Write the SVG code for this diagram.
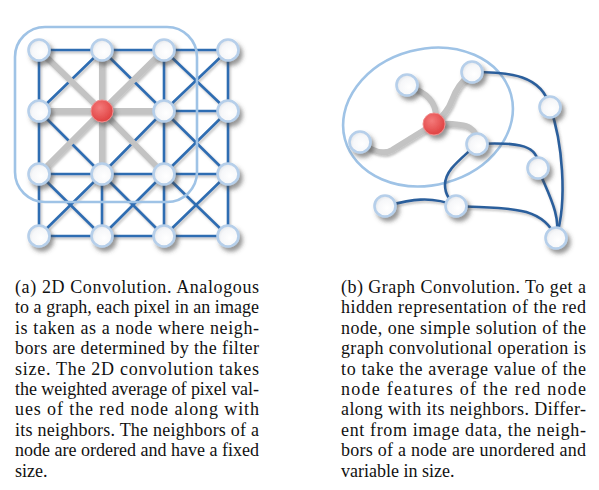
<svg xmlns="http://www.w3.org/2000/svg" width="599" height="490" viewBox="0 0 599 490">
<defs>
<filter id="sh" x="-50%" y="-50%" width="200%" height="200%">
<feDropShadow dx="3" dy="4" stdDeviation="2.2" flood-color="#444" flood-opacity="0.55"/>
</filter>
<filter id="lsh" x="-10%" y="-10%" width="120%" height="120%">
<feDropShadow dx="1.5" dy="2" stdDeviation="1.2" flood-color="#555" flood-opacity="0.35"/>
</filter>
<radialGradient id="ng" cx="0.6" cy="0.6" r="0.7">
<stop offset="0" stop-color="#ffffff"/>
<stop offset="0.6" stop-color="#f6f7f9"/>
<stop offset="1" stop-color="#d9dde2"/>
</radialGradient>
<radialGradient id="rg" cx="0.4" cy="0.35" r="0.7">
<stop offset="0" stop-color="#f47a7a"/>
<stop offset="1" stop-color="#de3d3d"/>
</radialGradient>
</defs>
<style>
.b{stroke:#2f6db2;stroke-width:2.6;fill:none;stroke-linecap:round}
.bg{stroke:#2c5f9c;stroke-width:2.6;fill:none;stroke-linecap:round}
.g{stroke:#c3c3c3;stroke-width:6;fill:none;stroke-linecap:round}
.n{fill:url(#ng);stroke:#b6cfea;stroke-width:2.6;filter:url(#sh)}
.r{fill:url(#rg);stroke:#f08c8c;stroke-width:1;filter:url(#sh)}
.frame{fill:none;stroke:#9fc3e6;stroke-width:2.6}
text{font-family:"Liberation Serif","Times New Roman",Times,serif;font-size:18px;fill:#111}
</style>

<g id="grid-edges" filter="url(#lsh)">
<line class="b" x1="39" y1="50" x2="102" y2="50"/><line class="b" x1="102" y1="50" x2="164" y2="50"/><line class="b" x1="164" y1="50" x2="228" y2="50"/>
<line class="b" x1="164" y1="111" x2="228" y2="111"/>
<line class="b" x1="39" y1="174" x2="102" y2="174"/><line class="b" x1="102" y1="174" x2="164" y2="174"/><line class="b" x1="164" y1="174" x2="228" y2="174"/>
<line class="b" x1="39" y1="236" x2="102" y2="236"/><line class="b" x1="102" y1="236" x2="164" y2="236"/><line class="b" x1="164" y1="236" x2="228" y2="236"/>
<line class="b" x1="39" y1="50" x2="39" y2="111"/><line class="b" x1="39" y1="111" x2="39" y2="174"/><line class="b" x1="39" y1="174" x2="39" y2="236"/>
<line class="b" x1="102" y1="174" x2="102" y2="236"/>
<line class="b" x1="164" y1="50" x2="164" y2="111"/><line class="b" x1="164" y1="111" x2="164" y2="174"/><line class="b" x1="164" y1="174" x2="164" y2="236"/>
<line class="b" x1="228" y1="50" x2="228" y2="111"/><line class="b" x1="228" y1="111" x2="228" y2="174"/><line class="b" x1="228" y1="174" x2="228" y2="236"/>
<line class="b" x1="102" y1="50" x2="39" y2="111"/>
<line class="b" x1="102" y1="50" x2="164" y2="111"/>
<line class="b" x1="164" y1="50" x2="228" y2="111"/><line class="b" x1="228" y1="50" x2="164" y2="111"/>
<line class="b" x1="39" y1="111" x2="102" y2="174"/>
<line class="b" x1="164" y1="111" x2="102" y2="174"/>
<line class="b" x1="164" y1="111" x2="228" y2="174"/><line class="b" x1="228" y1="111" x2="164" y2="174"/>
<line class="b" x1="39" y1="174" x2="102" y2="236"/><line class="b" x1="102" y1="174" x2="39" y2="236"/>
<line class="b" x1="102" y1="174" x2="164" y2="236"/><line class="b" x1="164" y1="174" x2="102" y2="236"/>
<line class="b" x1="164" y1="174" x2="228" y2="236"/><line class="b" x1="228" y1="174" x2="164" y2="236"/>
<line class="g" x1="102" y1="111" x2="39" y2="50"/>
<line class="g" x1="102" y1="111" x2="102" y2="50"/>
<line class="g" x1="102" y1="111" x2="164" y2="50"/>
<line class="g" x1="102" y1="111" x2="39" y2="111"/>
<line class="g" x1="102" y1="111" x2="164" y2="111"/>
<line class="g" x1="102" y1="111" x2="39" y2="174"/>
<line class="g" x1="102" y1="111" x2="102" y2="174"/>
<line class="g" x1="102" y1="111" x2="164" y2="174"/>
</g>

<rect id="filter-frame" class="frame" x="15" y="27" width="182" height="175" rx="30"/>

<g id="grid-nodes">
<g id="n00"><circle class="n" cx="39" cy="50" r="10.5"/></g>
<g id="n10"><circle class="n" cx="102" cy="50" r="10.5"/></g>
<g id="n20"><circle class="n" cx="164" cy="50" r="10.5"/></g>
<g id="n30"><circle class="n" cx="228" cy="50" r="10.5"/></g>
<g id="n01"><circle class="n" cx="39" cy="111" r="10.5"/></g>
<g id="n11"><circle class="r" cx="102" cy="111" r="11"/></g>
<g id="n21"><circle class="n" cx="164" cy="111" r="10.5"/></g>
<g id="n31"><circle class="n" cx="228" cy="111" r="10.5"/></g>
<g id="n02"><circle class="n" cx="39" cy="174" r="10.5"/></g>
<g id="n12"><circle class="n" cx="102" cy="174" r="10.5"/></g>
<g id="n22"><circle class="n" cx="164" cy="174" r="10.5"/></g>
<g id="n32"><circle class="n" cx="228" cy="174" r="10.5"/></g>
<g id="n03"><circle class="n" cx="39" cy="236" r="10.5"/></g>
<g id="n13"><circle class="n" cx="102" cy="236" r="10.5"/></g>
<g id="n23"><circle class="n" cx="164" cy="236" r="10.5"/></g>
<g id="n33"><circle class="n" cx="228" cy="236" r="10.5"/></g>
</g>

<ellipse id="neighborhood" class="frame" cx="428" cy="117" rx="86" ry="68" transform="rotate(-15 428 117)"/>

<g id="graph-edges" filter="url(#lsh)">
<path class="g" d="M407,86 Q437,95 436,118"/>
<path class="g" d="M434,124 Q448,112 452,100 Q458,84 470,75"/>
<path class="g" d="M434,124 L392,150 Q380,157 362,143"/>
<path class="g" d="M434,124 Q462,123 470,128 Q478,133 477,144"/>
<path class="bg" d="M472,72 C510,72 542,75 550,107"/>
<path class="bg" d="M550,107 C562,140 568,200 556,238"/>
<path class="bg" d="M477,144 C520,142 540,145 538,168"/>
<path class="bg" d="M538,168 C546,190 562,215 556,238"/>
<path class="bg" d="M477,144 C460,160 445,170 445,185 C445,195 450,200 456,206"/>
<path class="bg" d="M385,206 C410,200 430,195 456,206"/>
<path class="bg" d="M456,206 C500,209 542,203 556,238"/>
</g>

<g id="graph-nodes">
<g id="gA"><circle class="n" cx="472" cy="72" r="10.5"/></g>
<g id="gB"><circle class="n" cx="407" cy="85" r="10.5"/></g>
<g id="gC"><circle class="n" cx="360" cy="142" r="10.5"/></g>
<g id="gD"><circle class="n" cx="477" cy="144" r="10.5"/></g>
<g id="gE"><circle class="n" cx="550" cy="107" r="10.5"/></g>
<g id="gF"><circle class="n" cx="538" cy="168" r="10.5"/></g>
<g id="gG"><circle class="n" cx="385" cy="206" r="10.5"/></g>
<g id="gH"><circle class="n" cx="456" cy="206" r="10.5"/></g>
<g id="gI"><circle class="n" cx="556" cy="238" r="10.5"/></g>
<g id="gR"><circle class="r" cx="434" cy="124" r="11"/></g>
</g>

<g id="caption-a">
<text x="15" y="292.7" textLength="244" lengthAdjust="spacing">(a) 2D Convolution. Analogous</text>
<text x="15" y="313.1" textLength="244" lengthAdjust="spacing">to a graph, each pixel in an image</text>
<text x="15" y="333.6" textLength="244" lengthAdjust="spacing">is taken as a node where neigh-</text>
<text x="15" y="354.0" textLength="244" lengthAdjust="spacing">bors are determined by the filter</text>
<text x="15" y="374.5" textLength="244" lengthAdjust="spacing">size. The 2D convolution takes</text>
<text x="15" y="394.9" textLength="244" lengthAdjust="spacing">the weighted average of pixel val-</text>
<text x="15" y="415.3" textLength="244" lengthAdjust="spacing">ues of the red node along with</text>
<text x="15" y="435.8" textLength="244" lengthAdjust="spacing">its neighbors. The neighbors of a</text>
<text x="15" y="456.2" textLength="244" lengthAdjust="spacing">node are ordered and have a fixed</text>
<text x="15" y="476.7">size.</text>
</g>
<g id="caption-b">
<text x="341" y="292.7" textLength="245" lengthAdjust="spacing">(b) Graph Convolution. To get a</text>
<text x="341" y="313.1" textLength="245" lengthAdjust="spacing">hidden representation of the red</text>
<text x="341" y="333.6" textLength="245" lengthAdjust="spacing">node, one simple solution of the</text>
<text x="341" y="354.0" textLength="245" lengthAdjust="spacing">graph convolutional operation is</text>
<text x="341" y="374.5" textLength="245" lengthAdjust="spacing">to take the average value of the</text>
<text x="341" y="394.9" textLength="245" lengthAdjust="spacing">node features of the red node</text>
<text x="341" y="415.3" textLength="245" lengthAdjust="spacing">along with its neighbors. Differ-</text>
<text x="341" y="435.8" textLength="245" lengthAdjust="spacing">ent from image data, the neigh-</text>
<text x="341" y="456.2" textLength="245" lengthAdjust="spacing">bors of a node are unordered and</text>
<text x="341" y="476.7">variable in size.</text>
</g>
</svg>
